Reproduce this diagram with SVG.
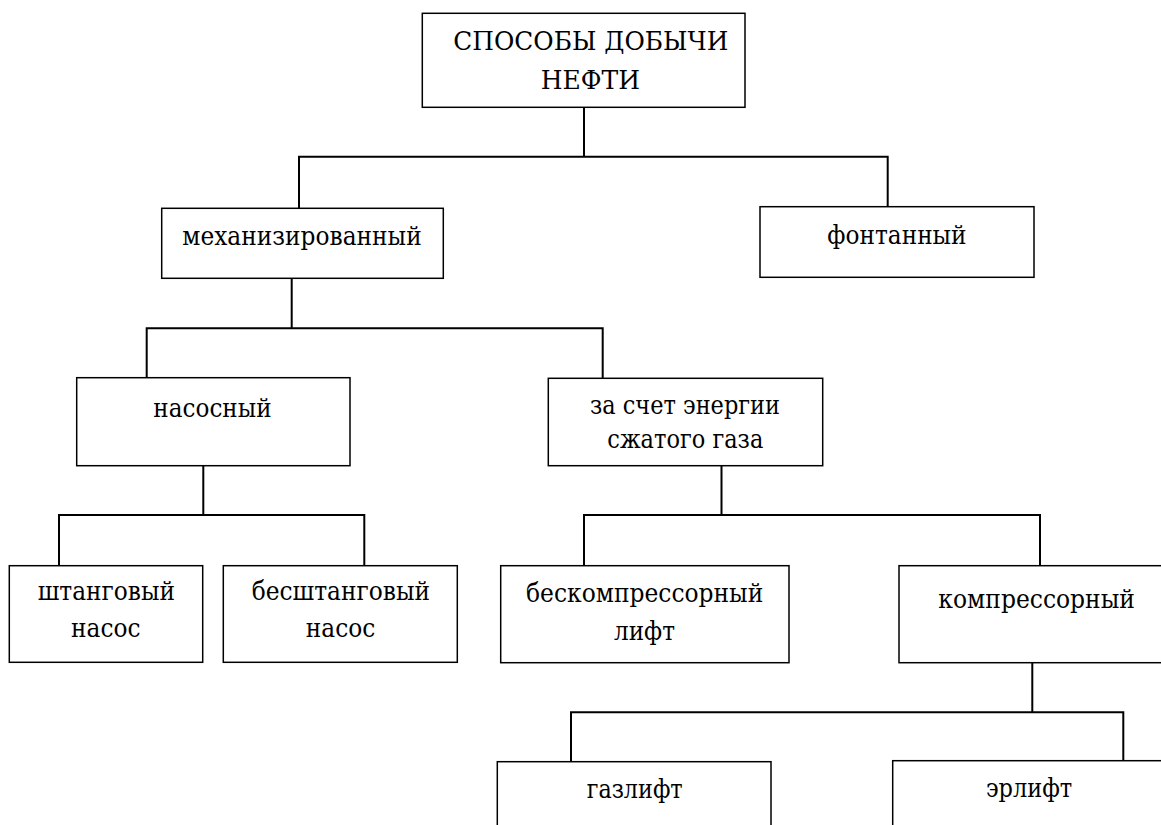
<svg xmlns="http://www.w3.org/2000/svg" width="1161" height="825" viewBox="0 0 1161 825">
<style>
.box{fill:#fff;stroke:#000;stroke-width:1.5}
.t{font-family:'DejaVu Serif','Liberation Serif',serif;font-size:26px;fill:#000}
.c{fill:none;stroke:#000;stroke-width:2}
</style>
<rect width="1161" height="825" fill="#fff"/>
<g id="connectors">
<path class="c" d="M584 107.3V156.7M299 208.3V156.7H887.7V206.7"/>
<path class="c" d="M291.7 278.3V328.3M146.7 377.7V328.3H602.7V378.3"/>
<path class="c" d="M203.3 465.7V515M59 565.7V515H364.3V565.7"/>
<path class="c" d="M721.5 465.7V515M584 565.7V515H1040V565.7"/>
<path class="c" d="M1032.3 662.7V712.3M571 761.7V712.3H1123.3V760.7"/>
</g>
<g id="root">
<rect class="box" x="422.3" y="13.3" width="322.7" height="94"/>
<text class="t" x="453.3" y="50" textLength="275" lengthAdjust="spacingAndGlyphs">СПОСОБЫ ДОБЫЧИ</text>
<text class="t" x="540.7" y="89" textLength="99.3" lengthAdjust="spacingAndGlyphs">НЕФТИ</text>
</g>
<g id="mech">
<rect class="box" x="161.7" y="208.3" width="281.6" height="70"/>
<text class="t" x="182.3" y="245" textLength="239.4" lengthAdjust="spacingAndGlyphs">механизированный</text>
</g>
<g id="fontan">
<rect class="box" x="760" y="206.7" width="274" height="70.6"/>
<text class="t" x="827.3" y="244" textLength="139.3" lengthAdjust="spacingAndGlyphs">фонтанный</text>
</g>
<g id="nasos">
<rect class="box" x="76.7" y="377.7" width="273.3" height="88"/>
<text class="t" x="153.3" y="416.7" textLength="118.3" lengthAdjust="spacingAndGlyphs">насосный</text>
</g>
<g id="gas">
<rect class="box" x="548.3" y="378.3" width="274.4" height="87.4"/>
<text class="t" x="590" y="414.3" textLength="190" lengthAdjust="spacingAndGlyphs">за счет энергии</text>
<text class="t" x="607.3" y="448.3" textLength="156" lengthAdjust="spacingAndGlyphs">сжатого газа</text>
</g>
<g id="shtang">
<rect class="box" x="9.3" y="565.7" width="193.4" height="96.6"/>
<text class="t" x="37.7" y="600" textLength="137.3" lengthAdjust="spacingAndGlyphs">штанговый</text>
<text class="t" x="71" y="637" textLength="69.5" lengthAdjust="spacingAndGlyphs">насос</text>
</g>
<g id="besshtang">
<rect class="box" x="223.3" y="565.7" width="234" height="96.6"/>
<text class="t" x="251.7" y="600" textLength="178.3" lengthAdjust="spacingAndGlyphs">бесштанговый</text>
<text class="t" x="305.8" y="637" textLength="69.5" lengthAdjust="spacingAndGlyphs">насос</text>
</g>
<g id="beskompr">
<rect class="box" x="500.7" y="565.7" width="288.3" height="97"/>
<text class="t" x="526" y="601.5" textLength="237.3" lengthAdjust="spacingAndGlyphs">бескомпрессорный</text>
<text class="t" x="614" y="640" textLength="61" lengthAdjust="spacingAndGlyphs">лифт</text>
</g>
<g id="kompr">
<rect class="box" x="899" y="565.7" width="276" height="97"/>
<text class="t" x="938.3" y="608.3" textLength="196.7" lengthAdjust="spacingAndGlyphs">компрессорный</text>
</g>
<g id="gazlift">
<rect class="box" x="497.3" y="761.7" width="273.7" height="80"/>
<text class="t" x="586.7" y="798.3" textLength="96" lengthAdjust="spacingAndGlyphs">газлифт</text>
</g>
<g id="erlift">
<rect class="box" x="892.7" y="760.7" width="273" height="80"/>
<text class="t" x="986" y="797.3" textLength="86.3" lengthAdjust="spacingAndGlyphs">эрлифт</text>
</g>
</svg>
